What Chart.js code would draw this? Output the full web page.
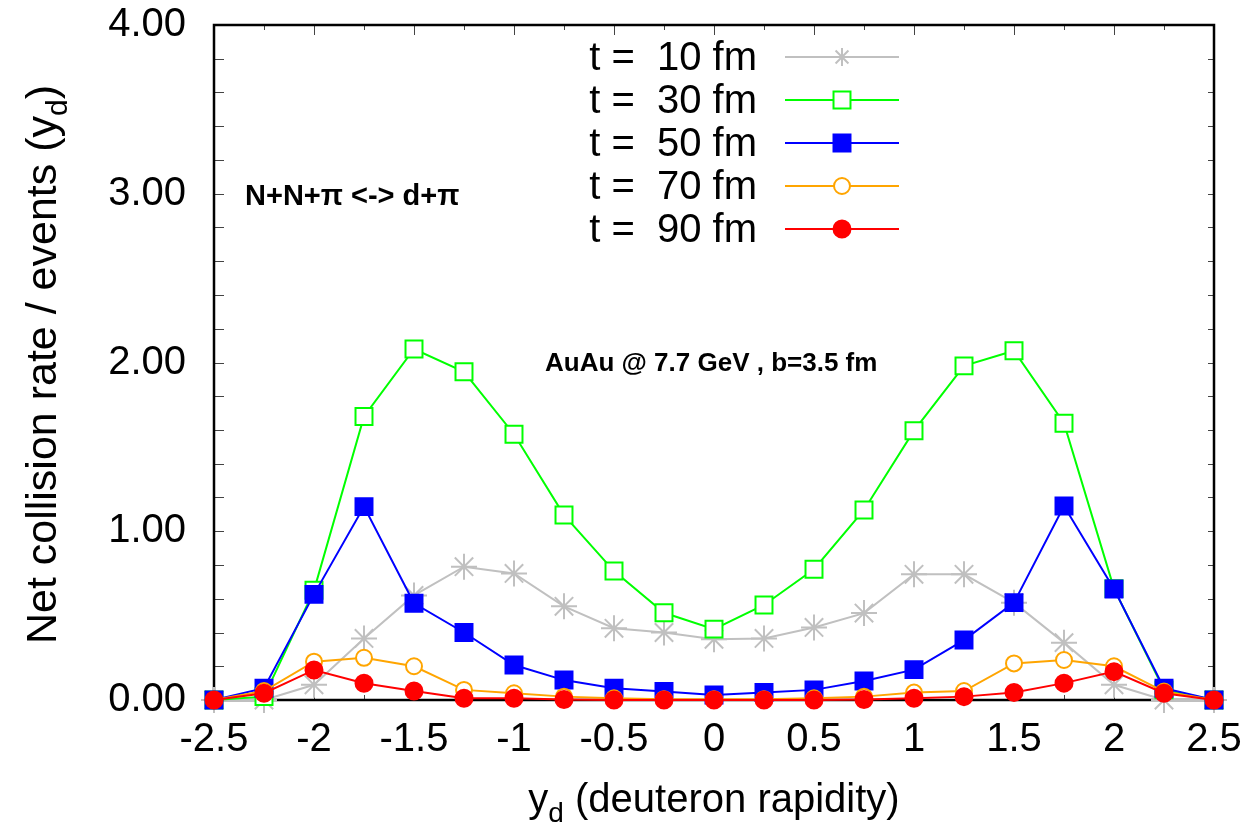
<!DOCTYPE html>
<html>
<head>
<meta charset="utf-8">
<script src="https://cdn.jsdelivr.net/npm/chart.js@4.4.1/dist/chart.umd.min.js"></script>
<style>
  html, body { margin: 0; background: #fff; }
</style>
</head>
<body>
<canvas id="rates" width="1259" height="834"></canvas>
<script>
// deuteron rapidity bins
const yd = [-2.5, -2.25, -2, -1.75, -1.5, -1.25, -1, -0.75, -0.5, -0.25, 0,
            0.25, 0.5, 0.75, 1, 1.25, 1.5, 1.75, 2, 2.25, 2.5];

// net collision rate / events at each time
const t10 = [0, 0, 0.09, 0.365, 0.62, 0.79, 0.75, 0.555, 0.425, 0.40, 0.36,
             0.365, 0.43, 0.515, 0.745, 0.745, 0.577, 0.34, 0.09, 0, 0];
const t30 = [0, 0.02, 0.65, 1.68, 2.08, 1.945, 1.575, 1.096, 0.764, 0.517, 0.42,
             0.563, 0.775, 1.126, 1.596, 1.98, 2.07, 1.64, 0.66, 0.06, 0];
const t50 = [0, 0.07, 0.626, 1.146, 0.573, 0.40, 0.207, 0.118, 0.07, 0.05, 0.03,
             0.044, 0.06, 0.113, 0.18, 0.355, 0.577, 1.15, 0.658, 0.07, 0];
const t70 = [0, 0.053, 0.227, 0.25, 0.20, 0.06, 0.04, 0.02, 0.01, 0.005, 0.005,
             0.005, 0.01, 0.02, 0.044, 0.053, 0.217, 0.237, 0.20, 0.05, 0];
const t90 = [0, 0.04, 0.178, 0.099, 0.053, 0.01, 0.01, 0.003, 0, 0, 0,
             0, 0, 0.003, 0.01, 0.02, 0.045, 0.1, 0.168, 0.04, 0];

const labels = ['t =  10 fm', 't =  30 fm', 't =  50 fm', 't =  70 fm', 't =  90 fm'];
const colors = ['#c0c0c0', '#00ff00', '#0000ff', '#ffa500', '#ff0000'];

const FONT = "'Liberation Sans', Arial, Helvetica, sans-serif";

function series(i, values, style, filled, radius) {
  return {
    label: labels[i],
    data: values.map((v, k) => ({ x: yd[k], y: v })),
    borderColor: colors[i],
    backgroundColor: colors[i],
    borderWidth: 2,
    pointStyle: style,
    pointRadius: radius,
    pointHoverRadius: radius,
    pointBorderWidth: 2,
    pointBorderColor: colors[i],
    pointBackgroundColor: filled ? colors[i] : '#ffffff',
    tension: 0,
    clip: false,
    order: 5 - i,
    _filled: filled
  };
}

const datasets = [
  series(0, t10, 'star', false, 13),
  series(1, t30, 'rect', false, 12),
  series(2, t50, 'rect', true, 12),
  series(3, t70, 'circle', false, 8),
  series(4, t90, 'circle', true, 8.5)
];

function subText(ctx, pre, sub, post, size) {
  // draws centred at the current origin, alphabetic baseline
  ctx.font = size + 'px ' + FONT;
  const w1 = ctx.measureText(pre).width;
  const w3 = ctx.measureText(post).width;
  ctx.font = Math.round(size * 0.7) + 'px ' + FONT;
  const w2 = ctx.measureText(sub).width;
  let x = -(w1 + w2 + w3) / 2;
  ctx.textAlign = 'left';
  ctx.textBaseline = 'alphabetic';
  ctx.font = size + 'px ' + FONT;
  ctx.fillText(pre, x, 0);
  x += w1;
  ctx.font = Math.round(size * 0.7) + 'px ' + FONT;
  ctx.fillText(sub, x, size * 0.25);
  x += w2;
  ctx.font = size + 'px ' + FONT;
  ctx.fillText(post, x, 0);
}

function marker(ctx, ds, x, y) {
  const r = ds.pointRadius;
  ctx.save();
  ctx.strokeStyle = ds.borderColor;
  ctx.fillStyle = ds._filled ? ds.borderColor : '#ffffff';
  ctx.lineWidth = 2;
  ctx.beginPath();
  if (ds.pointStyle === 'rect') {
    const s = r * Math.SQRT1_2;
    ctx.rect(x - s, y - s, 2 * s, 2 * s);
    ctx.fill();
    ctx.stroke();
  } else if (ds.pointStyle === 'circle') {
    ctx.arc(x, y, r, 0, Math.PI * 2);
    ctx.fill();
    ctx.stroke();
  } else {
    for (let a = 0; a < 4; a++) {
      const ang = a * Math.PI / 4;
      ctx.moveTo(x - Math.cos(ang) * r * 0.7, y - Math.sin(ang) * r * 0.7);
      ctx.lineTo(x + Math.cos(ang) * r * 0.7, y + Math.sin(ang) * r * 0.7);
    }
    ctx.stroke();
  }
  ctx.restore();
}

const decor = {
  id: 'decor',
  beforeDatasetsDraw(chart) {
    const { ctx, chartArea: a, scales } = chart;
    const sx = scales.x, sy = scales.y;
    ctx.save();
    ctx.strokeStyle = '#444';
    ctx.lineWidth = 1;
    ctx.beginPath();
    for (let v = -2.5; v <= 2.5001; v += 0.25) {
      const px = Math.round(sx.getPixelForValue(v)) + 0.5;
      const major = Math.abs(v * 2 - Math.round(v * 2)) < 1e-6;
      const len = major ? 10 : 5;
      ctx.moveTo(px, a.bottom); ctx.lineTo(px, a.bottom - len);
      ctx.moveTo(px, a.top); ctx.lineTo(px, a.top + len);
    }
    for (let v = 0; v <= 4.0001; v += 0.2) {
      const py = Math.round(sy.getPixelForValue(v)) + 0.5;
      ctx.moveTo(a.left, py); ctx.lineTo(a.left + 10, py);
      ctx.moveTo(a.right, py); ctx.lineTo(a.right - 6, py);
    }
    ctx.stroke();
    ctx.strokeStyle = '#000';
    ctx.lineWidth = 2.5;
    ctx.strokeRect(a.left, a.top, a.right - a.left, a.bottom - a.top);
    ctx.restore();
  },
  afterDraw(chart) {
    const { ctx, chartArea: a } = chart;
    ctx.save();
    ctx.fillStyle = '#000';

    // axis titles
    ctx.save();
    ctx.translate(56, (a.top + a.bottom) / 2 + 2);
    ctx.rotate(-Math.PI / 2);
    subText(ctx, 'Net collision rate / events (y', 'd', ')', 43);
    ctx.restore();

    ctx.save();
    ctx.translate((a.left + a.right) / 2, 812);
    subText(ctx, 'y', 'd', ' (deuteron rapidity)', 40);
    ctx.restore();

    // annotations
    ctx.font = 'bold 29px ' + FONT;
    ctx.textAlign = 'left';
    ctx.textBaseline = 'middle';
    ctx.fillText('N+N+\u03c0 <-> d+\u03c0', 245, 197);
    ctx.font = 'bold 26px ' + FONT;
    ctx.fillText('AuAu @ 7.7 GeV , b=3.5 fm', 545, 364);

    // legend
    const rowY = [57, 100, 143, 186, 229];
    chart.data.datasets.forEach((ds, i) => {
      const y = rowY[i];
      ctx.font = '40px ' + FONT;
      ctx.textAlign = 'right';
      ctx.textBaseline = 'middle';
      ctx.fillStyle = '#000';
      ctx.fillText(ds.label, 757, y + 2);
      ctx.strokeStyle = ds.borderColor;
      ctx.lineWidth = 2;
      ctx.beginPath();
      ctx.moveTo(785, y);
      ctx.lineTo(899, y);
      ctx.stroke();
      marker(ctx, ds, 842, y);
    });
    ctx.restore();
  }
};

new Chart(document.getElementById('rates'), {
  type: 'line',
  data: { datasets },
  plugins: [decor],
  options: {
    responsive: false,
    animation: false,
    layout: { padding: { top: 25, right: 45, left: 0, bottom: 0 } },
    plugins: {
      legend: { display: false },
      tooltip: { enabled: false }
    },
    scales: {
      x: {
        type: 'linear',
        min: -2.5,
        max: 2.5,
        grid: { display: false, drawTicks: false },
        border: { display: false },
        ticks: {
          stepSize: 0.5,
          autoSkip: false,
          maxRotation: 0,
          padding: 16,
          color: '#000',
          font: { family: FONT, size: 40 },
          callback: v => String(v)
        },
        afterFit: s => { s.height = 134; s.paddingLeft = 0; s.paddingRight = 0; }
      },
      y: {
        min: 0,
        max: 4,
        grid: { display: false, drawTicks: false },
        border: { display: false },
        ticks: {
          stepSize: 1,
          padding: 28,
          color: '#000',
          font: { family: FONT, size: 40 },
          callback: v => v.toFixed(2)
        },
        afterFit: s => { s.width = 214; s.paddingTop = 0; s.paddingBottom = 0; }
      }
    }
  }
});
</script>
</body>
</html>
